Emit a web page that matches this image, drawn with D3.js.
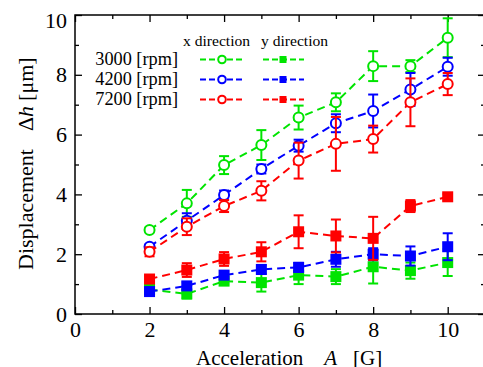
<!DOCTYPE html>
<html>
<head>
<meta charset="utf-8">
<script src="https://cdn.jsdelivr.net/npm/d3@7"></script>
<style>
  #chart text, #chart tspan { font-family: "Liberation Serif", serif !important; }
</style>
</head>
<body style="margin:0">
<svg id="chart" width="483" height="367" style="font-family: 'Liberation Serif', serif"></svg>
<script>
// Acceleration levels [G]
const accel = [2, 3, 4, 5, 6, 7, 8, 9, 10];

// Displacement Δh [μm], x direction (open circles)
const x3000 = [2.81, 3.70, 4.98, 5.65, 6.57, 7.08, 8.29, 8.29, 9.24];
const x3000Err = [0.08, 0.45, 0.30, 0.50, 0.40, 0.30, 0.50, 0.20, 0.65];
const x4200 = [2.25, 3.12, 3.98, 4.85, 5.63, 6.38, 6.79, 7.51, 8.27];
const x4200Err = [0.08, 0.25, 0.15, 0.15, 0.20, 0.30, 0.55, 0.55, 0.30];
const x7200 = [2.08, 2.92, 3.61, 4.12, 5.13, 5.69, 5.85, 7.08, 7.69];
const x7200Err = [0.15, 0.28, 0.20, 0.32, 0.60, 0.90, 0.45, 0.80, 0.37];

// Displacement Δh [μm], y direction (filled squares)
const y3000 = [0.82, 0.67, 1.10, 1.05, 1.30, 1.25, 1.58, 1.45, 1.72];
const y3000Err = [0.08, 0.15, 0.10, 0.30, 0.30, 0.25, 0.56, 0.27, 0.45];
const y4200 = [0.75, 0.94, 1.30, 1.49, 1.56, 1.83, 2.00, 1.94, 2.25];
const y4200Err = [0.08, 0.12, 0.12, 0.15, 0.15, 0.25, 0.20, 0.32, 0.45];
const y7200 = [1.17, 1.47, 1.84, 2.08, 2.75, 2.61, 2.53, 3.61, 3.92];
const y7200Err = [0.10, 0.23, 0.23, 0.32, 0.55, 0.55, 0.72, 0.20, 0.10];

// Axis ticks
const xMajorTicks = [0, 2, 4, 6, 8, 10];
const xMinorTicks = [1, 3, 5, 7, 9];
const yMajorTicks = [0, 2, 4, 6, 8, 10];
const yMinorTicks = [1, 3, 5, 7, 9];

// Legend labels
const speedLabels = ["3000 [rpm]", "4200 [rpm]", "7200 [rpm]"];
const directionLabels = ["x direction", "y direction"];

const GREEN = "#00e400", BLUE = "#0000ff", RED = "#ff0000";
const colors = [GREEN, BLUE, RED];
const SERIF = "Liberation Serif";

const series = [
  { values: x3000, err: x3000Err, color: GREEN, marker: "circle" },
  { values: x4200, err: x4200Err, color: BLUE, marker: "circle" },
  { values: x7200, err: x7200Err, color: RED, marker: "circle" },
  { values: y3000, err: y3000Err, color: GREEN, marker: "square" },
  { values: y4200, err: y4200Err, color: BLUE, marker: "square" },
  { values: y7200, err: y7200Err, color: RED, marker: "square" }
];

const svg = d3.select("#chart");
const plotLeft = 75, plotTop = 15, plotBottom = 314;
const x = d3.scaleLinear().domain([0, 11]).range([plotLeft, plotLeft + 11 * 37.27]);
const y = d3.scaleLinear().domain([0, 10]).range([plotBottom, plotTop]);
const plotRight = x(11);

// Frame
svg.append("rect")
  .attr("x", plotLeft).attr("y", plotTop)
  .attr("width", plotRight - plotLeft).attr("height", plotBottom - plotTop)
  .attr("fill", "none").attr("stroke", "#000").attr("stroke-width", 1.5);

const major = 7, minor = 4;
function styleAxis(g) {
  g.attr("font-family", null);
  g.select(".domain").remove();
  g.selectAll(".tick line").attr("stroke", "#000").attr("stroke-width", 1.3);
}
function serifText(sel, size) {
  sel.style("font-family", SERIF).style("font-size", size + "px").attr("fill", "#000");
}

// Bottom axis with labels
svg.append("g").attr("transform", `translate(0,${plotBottom})`)
  .call(d3.axisBottom(x).tickValues(xMajorTicks).tickSizeInner(-major).tickSizeOuter(0).tickPadding(7).tickFormat(d3.format("d")))
  .call(styleAxis)
  .call(g => serifText(g.selectAll("text"), 22));
svg.append("g").attr("transform", `translate(0,${plotBottom})`)
  .call(d3.axisBottom(x).tickValues(xMinorTicks).tickSizeInner(-minor).tickSizeOuter(0).tickFormat(""))
  .call(styleAxis);
// Top axis (ticks only)
svg.append("g").attr("transform", `translate(0,${plotTop})`)
  .call(d3.axisTop(x).tickValues(xMajorTicks).tickSizeInner(-major).tickSizeOuter(0).tickFormat(""))
  .call(styleAxis);
svg.append("g").attr("transform", `translate(0,${plotTop})`)
  .call(d3.axisTop(x).tickValues(xMinorTicks).tickSizeInner(-minor).tickSizeOuter(0).tickFormat(""))
  .call(styleAxis);

// Left axis with labels
svg.append("g").attr("transform", `translate(${plotLeft},0)`)
  .call(d3.axisLeft(y).tickValues(yMajorTicks).tickSizeInner(-major).tickSizeOuter(0).tickPadding(8).tickFormat(d3.format("d")))
  .call(styleAxis)
  .call(g => serifText(g.selectAll("text"), 22))
  .call(g => g.selectAll(".tick").filter(d => d === 10).select("text").attr("dy", "0.55em"));
svg.append("g").attr("transform", `translate(${plotLeft},0)`)
  .call(d3.axisLeft(y).tickValues(yMinorTicks).tickSizeInner(-minor).tickSizeOuter(0).tickFormat(""))
  .call(styleAxis);
// Right axis (ticks only)
svg.append("g").attr("transform", `translate(${plotRight},0)`)
  .call(d3.axisRight(y).tickValues(yMajorTicks).tickSizeInner(-major).tickSizeOuter(0).tickFormat(""))
  .call(styleAxis);
svg.append("g").attr("transform", `translate(${plotRight},0)`)
  .call(d3.axisRight(y).tickValues(yMinorTicks).tickSizeInner(-minor).tickSizeOuter(0).tickFormat(""))
  .call(styleAxis);

// Axis titles
const xTitle = svg.append("text").attr("x", 196).attr("y", 364.5).call(serifText, 21);
xTitle.append("tspan").text("Acceleration");
xTitle.append("tspan").attr("dx", 21).style("font-style", "italic").text("A");
xTitle.append("tspan").attr("dx", 16).text("[G]");

const yTitle = svg.append("text").attr("transform", "translate(33,270) rotate(-90)").call(serifText, 22);
yTitle.append("tspan").text("Displacement");
yTitle.append("tspan").attr("dx", 18).text("Δ");
yTitle.append("tspan").style("font-style", "italic").text("h");
yTitle.append("tspan").attr("dx", 5).text("[μm]");

// Data
const plot = svg.append("g");
const line = d3.line().x(d => x(d[0])).y(d => y(d[1]));
const capW = 5;

function drawMarker(g, cx, cy, type, color, size) {
  if (type === "circle") {
    g.append("circle").attr("cx", cx).attr("cy", cy).attr("r", size)
      .attr("fill", "#fff").attr("stroke", color).attr("stroke-width", 2);
  } else {
    g.append("rect").attr("x", cx - size).attr("y", cy - size)
      .attr("width", 2 * size).attr("height", 2 * size).attr("fill", color);
  }
}

series.forEach(s => {
  const g = plot.append("g");
  const pts = accel.map((a, i) => [a, s.values[i], s.err[i]]);
  // error bars
  pts.forEach(([a, v, e]) => {
    const px = x(a), y1 = y(v + e), y2 = y(v - e);
    g.append("line").attr("x1", px).attr("x2", px).attr("y1", y1).attr("y2", y2)
      .attr("stroke", s.color).attr("stroke-width", 2);
    [y1, y2].forEach(yy => g.append("line")
      .attr("x1", px - capW).attr("x2", px + capW).attr("y1", yy).attr("y2", yy)
      .attr("stroke", s.color).attr("stroke-width", 2));
  });
  // dashed connecting line
  g.append("path").datum(pts).attr("d", line)
    .attr("fill", "none").attr("stroke", s.color).attr("stroke-width", 2)
    .attr("stroke-dasharray", "8,5");
  // markers
  pts.forEach(([a, v]) => drawMarker(g, x(a), y(v), s.marker, s.color, s.marker === "circle" ? 5 : 5.5));
});

// Legend
const legend = svg.append("g");
legend.append("text").attr("x", 183).attr("y", 46).call(serifText, 15.6).text(directionLabels[0]);
legend.append("text").attr("x", 261).attr("y", 46).call(serifText, 15.6).text(directionLabels[1]);
speedLabels.forEach((lab, i) => {
  const cy = 59.5 + i * 20;
  legend.append("text").attr("x", 178).attr("y", cy + 5.5).attr("text-anchor", "end")
    .call(serifText, 18.3).text(lab);
  [[200, 243, 222, "circle"], [263, 304, 283, "square"]].forEach(([x1, x2, cx, m]) => {
    legend.append("line").attr("x1", x1).attr("x2", x2).attr("y1", cy).attr("y2", cy)
      .attr("stroke", colors[i]).attr("stroke-width", 2).attr("stroke-dasharray", "6,3");
    drawMarker(legend, cx, cy, m, colors[i], m === "circle" ? 3.8 : 3.5);
  });
});
</script>
</body>
</html>
